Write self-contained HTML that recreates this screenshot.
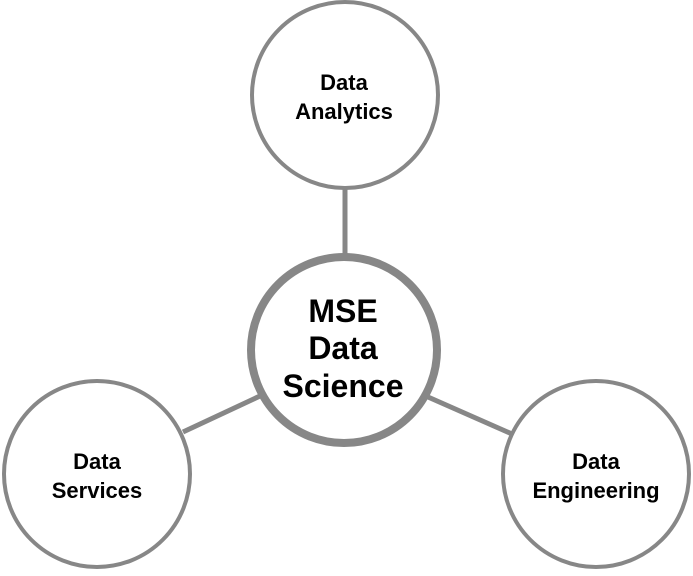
<!DOCTYPE html>
<html><head><style>html,body{margin:0;padding:0;background:#fff}</style></head>
<body>
<svg width="693" height="571" viewBox="0 0 693 571" xmlns="http://www.w3.org/2000/svg">
<g stroke="#878787" fill="none">
<line x1="345" y1="188" x2="345" y2="256" stroke-width="5"/>
<line x1="183" y1="432" x2="260" y2="396" stroke-width="5"/>
<line x1="428" y1="397" x2="512" y2="434" stroke-width="5"/>
<circle cx="345" cy="95" r="93" stroke-width="4" fill="#fff"/>
<circle cx="97" cy="474" r="93" stroke-width="4" fill="#fff"/>
<circle cx="596" cy="474" r="93" stroke-width="4" fill="#fff"/>
<circle cx="344" cy="350" r="93" stroke-width="8" fill="#fff"/>
</g>
<g font-family="Liberation Sans, sans-serif" font-weight="bold" text-anchor="middle" fill="#000">
<text x="344" y="90" font-size="22">Data</text>
<text x="344" y="119" font-size="22">Analytics</text>
<text x="97" y="469" font-size="22">Data</text>
<text x="97" y="498" font-size="22">Services</text>
<text x="596" y="469" font-size="22">Data</text>
<text x="596" y="498" font-size="22">Engineering</text>
<text x="343" y="322" font-size="32">MSE</text>
<text x="343" y="359" font-size="32">Data</text>
<text x="343" y="397" font-size="32">Science</text>
</g>
</svg>
</body></html>
